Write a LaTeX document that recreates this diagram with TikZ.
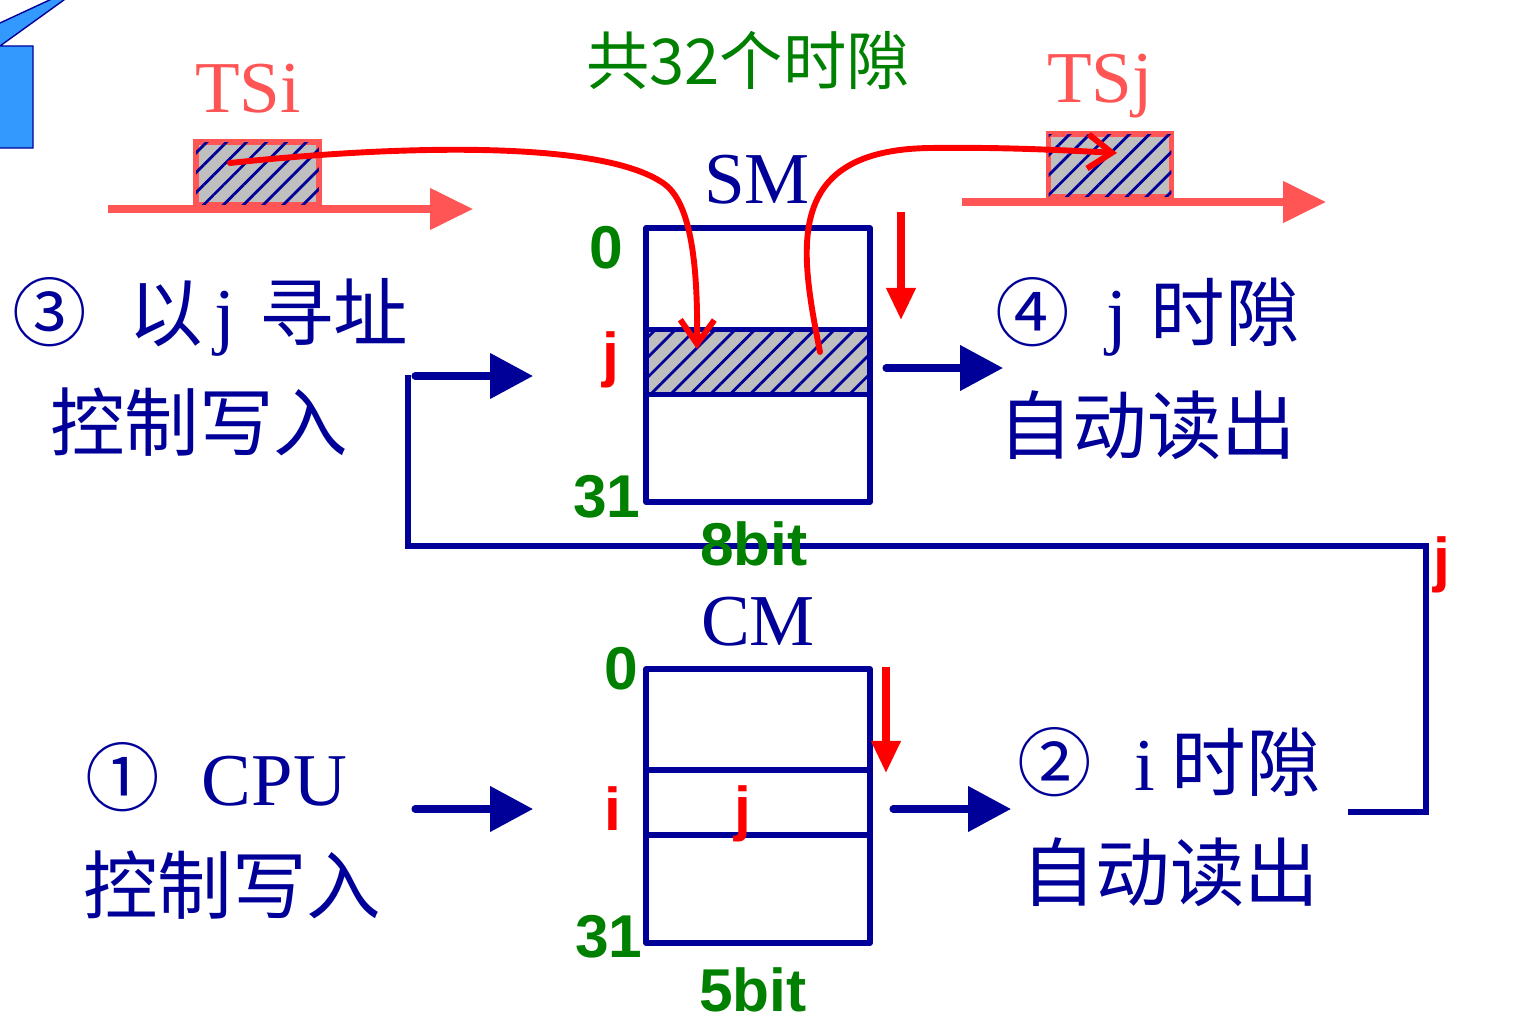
\documentclass[tikz,border=0pt]{standalone}
\usepackage{fontspec}
\setmainfont{Liberation Serif}
\newfontfamily\cjk{Noto Sans CJK SC}
\newfontfamily\numf{Liberation Sans}
\usetikzlibrary{arrows.meta,patterns.meta}
\definecolor{dblue}{RGB}{0,0,153}
\definecolor{tsred}{RGB}{255,85,85}
\definecolor{dgreen}{RGB}{0,128,0}
\definecolor{callout}{RGB}{51,153,255}
\tikzset{
  mem/.style={draw=dblue, line width=4pt, line join=round, inner sep=0pt, minimum width=5.6cm},
  hatch/.style={fill=lightgray, postaction={pattern={Lines[angle=45,distance=10pt,line width=2pt]}, pattern color=dblue}},
  tsbox/.style={draw=tsred, line width=4pt, hatch, minimum width=3.07cm, minimum height=1.57cm, inner sep=0pt},
  tsline/.style={tsred, line width=5pt, -{Triangle[length=1.07cm,width=1cm]}},
  barr/.style={dblue, line width=5pt, line cap=round, -{Triangle[length=1.07cm,width=1.1cm]}},
  bus/.style={dblue, line width=4pt},
  rcurve/.style={red, line width=4.2pt, line cap=round, -{Straight Barb[length=0.6cm,width=0.85cm]}},
  rdown/.style={red, line width=5pt, -{Triangle[length=0.8cm,width=0.7cm]}},
  cn/.style={font=\cjk\fontsize{53}{60}\selectfont, text=dblue, inner sep=0pt, anchor=base west},
  tm/.style={font=\fontsize{52}{60}\selectfont, inner sep=0pt, anchor=base},
  num/.style={font=\numf\bfseries\fontsize{43}{48}\selectfont, text=dgreen, inner sep=0pt},
  rnum/.style={num, text=red},
}
\begin{document}
\begin{tikzpicture}[x=0.025cm,y=-0.025cm]
\useasboundingbox (0,0) rectangle (1526,1025);
\fill[callout, draw=dblue, line width=1pt] (-5,148) -- (33,148) -- (33,46) -- (0,46) -- (68,-3) -- (56,-3) -- (0,23) -- (-5,23) -- cycle;
\node[font=\cjk\fontsize{45}{50}\selectfont, text=dgreen, inner sep=0pt] (total) at (748,60) {共32个时隙};
\node[tm, text=tsred] (tsi) at (248,113) {TSi};
\node[tm, text=tsred] (tsj) at (1100,103) {TSj};
\node[tm, text=dblue] (smt) at (757,203) {SM};
\node[tm, text=dblue] (cmt) at (758,645) {CM};
\coordinate (tsis) at (108,209);
\coordinate (tsie) at (473,209);
\coordinate (tsjs) at (962,202);
\coordinate (tsje) at (1326,202);
\draw[tsline] (tsis) -- (tsie);
\draw[tsline] (tsjs) -- (tsje);
\node[tsbox] (tsib) at (257.5,173.5) {};
\node[tsbox] (tsjb) at (1110,165.5) {};
\node[mem, minimum height=6.85cm] (sm) at (758,365) {};
\node[mem, hatch, minimum height=1.625cm] (smj) at (758,362) {};
\node[mem, minimum height=6.85cm] (cm) at (758,806) {};
\node[mem, minimum height=1.625cm] (cmi) at (758,802.5) {};
\coordinate (b1) at (1348,812);
\coordinate (b2) at (1426,546);
\coordinate (b3) at (408,375);
\draw[bus] (b1) -| (b2) -| (b3);
\node[num] (sm0) at (606,248) {0};
\node[rnum] (smjl) at (611,360) {j};
\node[num] (sm31) at (607,497) {31};
\node[num] (smw) at (754,544) {8bit};
\node[num] (cm0) at (621,669) {0};
\node[rnum] (cmil) at (613,809) {i};
\node[rnum] (cmj) at (743,814) {j};
\node[num] (cm31) at (609,937) {31};
\node[num] (cmw) at (753,990) {5bit};
\node[rnum] (busj) at (1442,565) {j};
\coordinate (smin0) at (415,376);
\coordinate (smin) at (533,376);
\coordinate (smout0) at (886,368);
\coordinate (smout) at (1003,368);
\coordinate (cmin0) at (415,809);
\coordinate (cmin) at (533,809);
\coordinate (cmout0) at (893,809);
\coordinate (cmout) at (1011,809);
\draw[barr] (smin0) -- (smin);
\draw[barr] (smout0) -- (smout);
\draw[barr] (cmin0) -- (cmin);
\draw[barr] (cmout0) -- (cmout);
\coordinate (smp0) at (901,212);
\coordinate (smp) at (901,320);
\coordinate (cmp0) at (886,667);
\coordinate (cmp) at (886,773);
\draw[rdown] (smp0) -- (smp);
\draw[rdown] (cmp0) -- (cmp);
\coordinate (wr0) at (230,163);
\coordinate (wr) at (697,349);
\coordinate (rd0) at (820,352);
\coordinate (rd) at (1117,153);
\draw[rcurve] (wr0) .. controls (400,145) and (600,140) .. (663,183) .. controls (690,201) and (698,260) .. (wr);
\draw[rcurve] (rd0) .. controls (800,250) and (782,150) .. (930,148) .. controls (1000,147) and (1060,150) .. (rd);
\node[cn] (t3a) at (12,340) {③\hspace{30pt}以\hspace{8pt}{\rmfamily j}\hspace{17pt}寻址};
\node[cn] (t3b) at (50,450) {控制写入};
\node[cn] (t4a) at (995,340) {④\hspace{26pt}{\rmfamily j}\hspace{17pt}时隙};
\node[cn] (t4b) at (998,453) {自动读出};
\node[cn] (t1a) at (85,805) {①\hspace{30pt}{\rmfamily CPU}};
\node[cn] (t1b) at (83,913) {控制写入};
\node[cn] (t2a) at (1017,790) {②\hspace{30pt}{\rmfamily i}\hspace{12pt}时隙};
\node[cn] (t2b) at (1021,900) {自动读出};
\end{tikzpicture}
\end{document}
